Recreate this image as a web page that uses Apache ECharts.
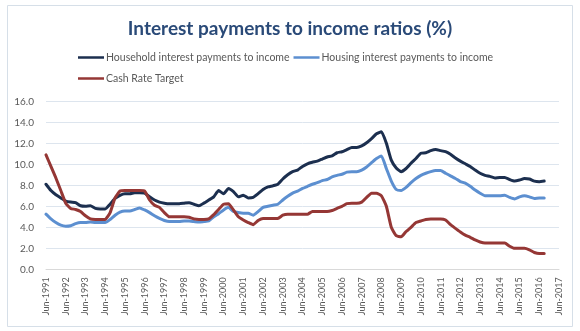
<!DOCTYPE html>
<html>
<head>
<meta charset="utf-8">
<script src="https://cdn.jsdelivr.net/npm/echarts@6/dist/echarts.min.js"></script>
<style>
html,body{margin:0;padding:0;background:#fff;}
#chart{width:580px;height:331px;}
</style>
</head>
<body>
<div id="chart"></div>
<script>
const titleText = 'Interest payments to income ratios (%)';
const seriesNames = ['Household interest payments to income', 'Housing interest payments to income', 'Cash Rate Target'];

const categories = [
 'Jun-1991','Sep-1991','Dec-1991','Mar-1992','Jun-1992','Sep-1992','Dec-1992','Mar-1993',
 'Jun-1993','Sep-1993','Dec-1993','Mar-1994','Jun-1994','Sep-1994','Dec-1994','Mar-1995',
 'Jun-1995','Sep-1995','Dec-1995','Mar-1996','Jun-1996','Sep-1996','Dec-1996','Mar-1997',
 'Jun-1997','Sep-1997','Dec-1997','Mar-1998','Jun-1998','Sep-1998','Dec-1998','Mar-1999',
 'Jun-1999','Sep-1999','Dec-1999','Mar-2000','Jun-2000','Sep-2000','Dec-2000','Mar-2001',
 'Jun-2001','Sep-2001','Dec-2001','Mar-2002','Jun-2002','Sep-2002','Dec-2002','Mar-2003',
 'Jun-2003','Sep-2003','Dec-2003','Mar-2004','Jun-2004','Sep-2004','Dec-2004','Mar-2005',
 'Jun-2005','Sep-2005','Dec-2005','Mar-2006','Jun-2006','Sep-2006','Dec-2006','Mar-2007',
 'Jun-2007','Sep-2007','Dec-2007','Mar-2008','Jun-2008','Sep-2008','Dec-2008','Mar-2009',
 'Jun-2009','Sep-2009','Dec-2009','Mar-2010','Jun-2010','Sep-2010','Dec-2010','Mar-2011',
 'Jun-2011','Sep-2011','Dec-2011','Mar-2012','Jun-2012','Sep-2012','Dec-2012','Mar-2013',
 'Jun-2013','Sep-2013','Dec-2013','Mar-2014','Jun-2014','Sep-2014','Dec-2014','Mar-2015',
 'Jun-2015','Sep-2015','Dec-2015','Mar-2016','Jun-2016','Sep-2016','Dec-2016','Mar-2017',
 'Jun-2017'
];

const household = [
 8.1, 7.5, 7.1, 6.8, 6.5, 6.4, 6.35, 6.05,
 6.0, 6.05, 5.8, 5.75, 5.75, 6.2, 6.75, 7.05,
 7.2, 7.2, 7.3, 7.3, 7.25, 6.9, 6.6, 6.4,
 6.3, 6.25, 6.25, 6.25, 6.3, 6.35, 6.2, 6.05,
 6.3, 6.6, 6.9, 7.5, 7.2, 7.7, 7.4, 6.9,
 7.05, 6.8, 6.85, 7.2, 7.6, 7.85, 7.95, 8.1,
 8.6, 9.0, 9.3, 9.45, 9.8, 10.05, 10.2, 10.3,
 10.5, 10.7, 10.8, 11.1, 11.2, 11.4, 11.6, 11.6,
 11.75, 12.05, 12.45, 12.9, 13.1, 12.0, 10.4, 9.65,
 9.3, 9.6, 10.1, 10.55, 11.05, 11.1, 11.3, 11.4,
 11.3, 11.2, 10.95, 10.6, 10.3, 10.05, 9.8, 9.45,
 9.15, 8.95, 8.85, 8.7, 8.75, 8.75, 8.55, 8.4,
 8.5, 8.65, 8.6, 8.4, 8.35, 8.4
];

const housing = [
 5.25, 4.8, 4.45, 4.2, 4.1, 4.15, 4.35, 4.45,
 4.45, 4.5, 4.45, 4.45, 4.45, 4.75, 5.15, 5.45,
 5.55, 5.55, 5.7, 5.85, 5.65, 5.4, 5.1, 4.85,
 4.65, 4.55, 4.55, 4.55, 4.6, 4.6, 4.55, 4.5,
 4.55, 4.6, 5.0, 5.3, 5.65, 5.9, 5.5, 5.4,
 5.35, 5.35, 5.15, 5.5, 5.9, 6.0, 6.1, 6.2,
 6.6, 6.95, 7.25, 7.45, 7.7, 7.9, 8.1, 8.25,
 8.45, 8.55, 8.8, 8.95, 9.05, 9.25, 9.3, 9.3,
 9.45, 9.75, 10.15, 10.55, 10.8, 9.6, 8.4, 7.6,
 7.5, 7.8, 8.25, 8.65, 8.95, 9.15, 9.3, 9.4,
 9.4, 9.15, 8.9, 8.65, 8.35, 8.2, 7.9, 7.55,
 7.25, 7.0, 7.0, 7.0, 7.0, 7.05, 6.85, 6.7,
 6.9, 7.0, 6.9, 6.75, 6.8, 6.8
];

const cashRate = [
 10.9, 9.8, 8.7, 7.5, 6.3, 5.8, 5.7, 5.5,
 5.1, 4.8, 4.75, 4.75, 4.75, 5.4, 6.8, 7.45,
 7.5, 7.5, 7.5, 7.5, 7.45, 6.6, 6.1, 5.9,
 5.4, 5.0, 5.0, 5.0, 5.0, 4.95, 4.8, 4.75,
 4.75, 4.8, 5.2, 5.7, 6.2, 6.25, 5.65, 5.0,
 4.7, 4.45, 4.25, 4.65, 4.85, 4.85, 4.85, 4.85,
 5.15, 5.25, 5.25, 5.25, 5.25, 5.25, 5.5, 5.5,
 5.5, 5.5, 5.6, 5.8, 6.0, 6.25, 6.28, 6.28,
 6.4, 6.85, 7.25, 7.25, 7.0, 6.0, 4.0, 3.2,
 3.1, 3.6, 4.0, 4.45, 4.6, 4.75, 4.8, 4.8,
 4.8, 4.7, 4.25, 3.9, 3.55, 3.25, 3.05, 2.8,
 2.6, 2.5, 2.5, 2.5, 2.5, 2.5, 2.2, 2.0,
 2.0, 2.0, 1.85, 1.6, 1.5, 1.5
];

const yTicks = { min: 0, max: 16, interval: 2 };

const colors = ['#1c2f4f', '#5c8fd0', '#953735'];
const fontFam = 'Lato, "Liberation Sans", sans-serif';

const chart = echarts.init(document.getElementById('chart'), null, { renderer: 'canvas' });

function lineSeries(name, data, color) {
  return {
    name: name, type: 'line', data: data, symbol: 'none', smooth: 0.15,
    lineStyle: { color: color, width: 3, cap: 'round', join: 'round' },
    itemStyle: { color: color },
    emphasis: { disabled: true }
  };
}

const legendCommon = {
  icon: 'rect', itemWidth: 26, itemHeight: 2.5, itemGap: 4, padding: 5,
  textStyle: { fontFamily: fontFam, fontSize: 10.5, color: '#595959', padding: [0, 0, 0, -3] }
};

chart.setOption({
  animation: false,
  backgroundColor: '#fff',
  graphic: [{
    type: 'rect', left: 7, top: 5, z: -10,
    shape: { width: 565, height: 321 },
    style: { fill: '#fff', stroke: '#d6dfe8', lineWidth: 1 }
  }],
  title: {
    text: titleText, left: 'center', top: 14,
    textStyle: { fontFamily: fontFam, fontWeight: 'bold', fontSize: 19, color: '#2a4a78' }
  },
  legend: [
    Object.assign({ data: [seriesNames[0], seriesNames[1]], left: 73, top: 47 }, legendCommon),
    Object.assign({ data: [seriesNames[2]], left: 73, top: 68 }, legendCommon)
  ],
  grid: { left: 46, right: 21, top: 101.3, bottom: 61.7, containLabel: false },
  xAxis: {
    type: 'category', data: categories, boundaryGap: false,
    axisLine: { show: true, lineStyle: { color: '#d9d9d9' } },
    axisTick: { show: false },
    axisLabel: {
      interval: 3, rotate: 90, margin: 8,
      fontFamily: fontFam, fontSize: 9, color: '#595959'
    },
    splitLine: { show: false }
  },
  yAxis: {
    type: 'value', min: yTicks.min, max: yTicks.max, interval: yTicks.interval,
    axisLine: { show: false }, axisTick: { show: false },
    axisLabel: {
      margin: 12, fontFamily: fontFam, fontSize: 10, color: '#595959',
      formatter: v => v.toFixed(1)
    },
    splitLine: { lineStyle: { color: '#dde5ee', width: 1 } }
  },
  series: [
    lineSeries(seriesNames[0], household, colors[0]),
    lineSeries(seriesNames[1], housing, colors[1]),
    lineSeries(seriesNames[2], cashRate, colors[2])
  ]
});
</script>
</body>
</html>
